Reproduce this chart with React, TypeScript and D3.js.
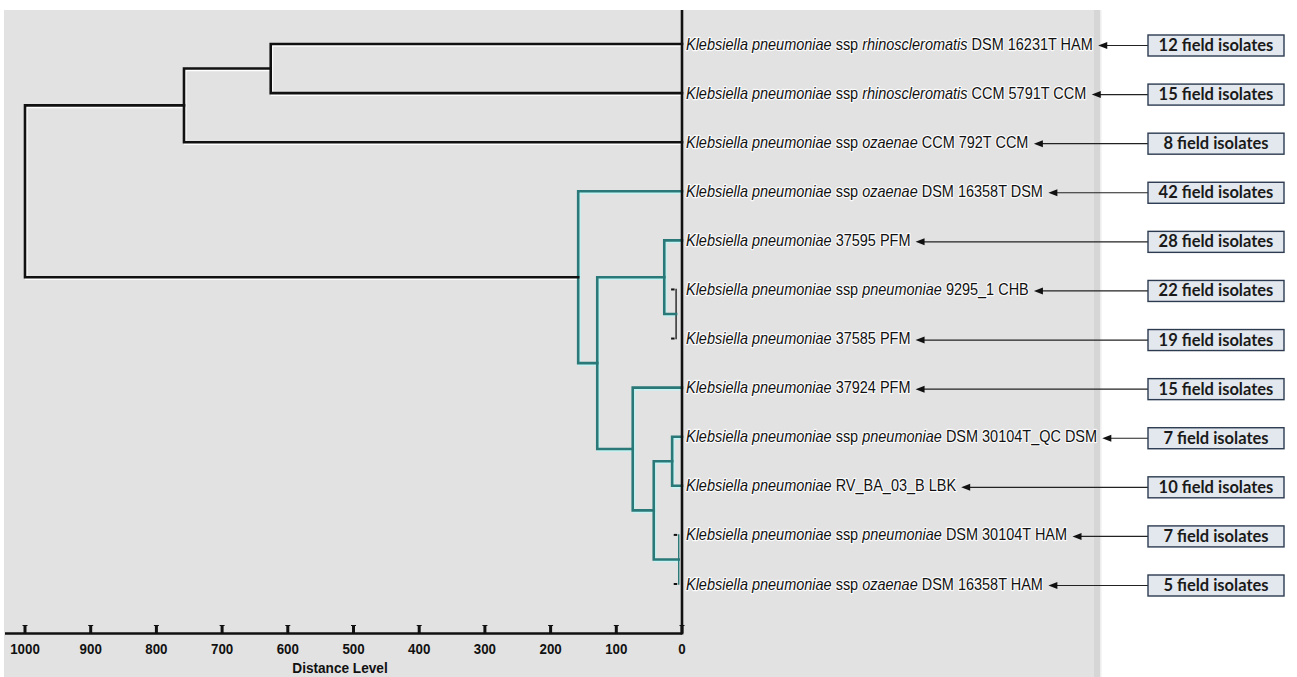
import React, { useMemo } from 'react';
import * as d3 from 'd3';

// ---------- DATA ----------
// each label: list of [text, italic]
const speciesLabels: [string, boolean][][] = [
  [['Klebsiella pneumoniae', true], [' ssp ', false], ['rhinoscleromatis', true], [' DSM 16231T HAM', false]],
  [['Klebsiella pneumoniae', true], [' ssp ', false], ['rhinoscleromatis', true], [' CCM 5791T CCM', false]],
  [['Klebsiella pneumoniae', true], [' ssp ', false], ['ozaenae', true], [' CCM 792T CCM', false]],
  [['Klebsiella pneumoniae', true], [' ssp ', false], ['ozaenae', true], [' DSM 16358T DSM', false]],
  [['Klebsiella pneumoniae', true], [' 37595 PFM', false]],
  [['Klebsiella pneumoniae', true], [' ssp ', false], ['pneumoniae', true], [' 9295_1 CHB', false]],
  [['Klebsiella pneumoniae', true], [' 37585 PFM', false]],
  [['Klebsiella pneumoniae', true], [' 37924 PFM', false]],
  [['Klebsiella pneumoniae', true], [' ssp ', false], ['pneumoniae', true], [' DSM 30104T_QC DSM', false]],
  [['Klebsiella pneumoniae', true], [' RV_BA_03_B LBK', false]],
  [['Klebsiella pneumoniae', true], [' ssp ', false], ['pneumoniae', true], [' DSM 30104T HAM', false]],
  [['Klebsiella pneumoniae', true], [' ssp ', false], ['ozaenae', true], [' DSM 16358T HAM', false]],
];

const fieldIsolates = [12, 15, 8, 42, 28, 22, 19, 15, 7, 10, 7, 5];

// linkage: [childA, childB, distance]; leaves are 0..11, merged nodes 12..
const merges: [number, number, number][] = [
  [5, 6, 9],      // 12
  [10, 11, 5],    // 13
  [8, 9, 15],     // 14
  [14, 13, 43],   // 15
  [7, 15, 75],    // 16
  [4, 12, 27],    // 17
  [17, 16, 129],  // 18
  [3, 18, 158],   // 19
  [0, 1, 626],    // 20
  [20, 2, 758],   // 21
  [21, 19, 1000], // 22
];

const axisTicks = [1000, 900, 800, 700, 600, 500, 400, 300, 200, 100, 0];
const axisTitle = 'Distance Level';
const boxSuffix = ' field isolates';

// ---------- STYLE ----------
const TEAL = '#2a7878';
const TEAL_HALO = '#c4f4f4';
const BLACK = '#111';
const CLUSTER_CUT = 200;
const TINY = 10;
const tinyStroke: Record<number, string> = { 0: '#222', 1: TEAL };
const LABEL_FONT = '"Liberation Sans", Arial, sans-serif';
const LABEL_SIZE = 16;
const LABEL_SX = 0.905;

export default function App() {
  const W = 1297, H = 677;
  const x = d3.scaleLinear().domain([1000, 0]).range([25, 682]);
  const y = d3.scalePoint<number>().domain(d3.range(speciesLabels.length)).range([44, 584]);
  const axisY = 633.5;

  const widths = useMemo(() => {
    const c = document.createElement('canvas').getContext('2d')!;
    return speciesLabels.map(segs =>
      d3.sum(segs, ([t, it]) => {
        c.font = `${it ? 'italic ' : ''}${LABEL_SIZE}px ${LABEL_FONT}`;
        return c.measureText(t).width;
      }) * LABEL_SX
    );
  }, []);

  // node positions
  const pos: { x: number; y: number }[] = speciesLabels.map((_, i) => ({ x: x(0), y: y(i)! }));
  merges.forEach(([a, b, d]) => {
    pos.push({ x: x(d), y: (pos[a].y + pos[b].y) / 2 });
  });

  const segs: { d: string; color: string; halo: string; w: number }[] = [];
  const dashes: { x: number; y: number }[] = [];
  merges.forEach(([a, b, d], k) => {
    const p = pos[speciesLabels.length + k];
    const pa = pos[a], pb = pos[b];
    const teal = d < CLUSTER_CUT;
    const color = teal ? TEAL : BLACK;
    const halo = teal ? TEAL_HALO : '#ffffff';
    if (d < TINY) {
      segs.push({ d: `M${p.x},${pa.y}V${pb.y}`, color: tinyStroke[k] ?? color, halo: 'none', w: 1.4 });
      dashes.push({ x: p.x, y: pa.y }, { x: p.x, y: pb.y });
    } else {
      segs.push({ d: `M${pa.x},${pa.y}H${p.x}V${pb.y}H${pb.x}`, color, halo, w: 2.6 });
    }
  });

  const labelX = 686;
  const boxX = 1148, boxW = 136, boxH = 21;

  return (
    <svg width={W} height={H} style={{ position: 'absolute', left: 0, top: 0, background: '#fff' }}>
      <rect x={4} y={10} width={1091} height={H - 10} fill="#e2e2e2" />
      <rect x={1094} y={10} width={6} height={H - 10} fill="#d6d6d6" />
      <rect x={1100} y={10} width={1.5} height={H - 10} fill="#eeeeee" />

      {/* dendrogram halos */}
      {segs.map((s, i) =>
        s.halo === 'none' ? null : (
          <path key={'h' + i} d={s.d} transform="translate(1.3,1.6)" fill="none" stroke={s.halo} strokeWidth={2.4} strokeLinejoin="miter" />
        )
      )}
      {segs.map((s, i) => (
        <path key={'s' + i} d={s.d} fill="none" stroke={s.color} strokeWidth={s.w} strokeLinejoin="miter" strokeLinecap="square" />
      ))}
      {dashes.map((p, i) => (
        <line key={'d' + i} x1={p.x - 5} x2={p.x - 1.5} y1={p.y} y2={p.y} stroke="#111" strokeWidth={2} />
      ))}

      {/* axes */}
      <line x1={x(0)} x2={x(0)} y1={10} y2={axisY + 1} stroke={BLACK} strokeWidth={2.6} />
      <line x1={5} x2={x(0)} y1={axisY} y2={axisY} stroke={BLACK} strokeWidth={2.4} />
      {axisTicks.map(t => (
        <g key={t}>
          <line x1={x(t)} x2={x(t)} y1={axisY - 8} y2={axisY} stroke={BLACK} strokeWidth={3} />
          <line x1={x(t) - 2.5} x2={x(t) + 2.5} y1={axisY - 8} y2={axisY - 8} stroke={BLACK} strokeWidth={1} />
          <text transform={`translate(${x(t)},${axisY + 20}) scale(0.86,1)`} textAnchor="middle" fontFamily={LABEL_FONT}
            fontWeight="bold" fontSize={15.5} fill="#111">
            {t}
          </text>
        </g>
      ))}
      <text transform={`translate(340,673) scale(0.88,1)`} textAnchor="middle" fontFamily={LABEL_FONT} fontWeight="bold" fontSize={15.5} fill="#111">
        {axisTitle}
      </text>

      {/* labels */}
      {speciesLabels.map((segsL, i) => (
        <text key={'l' + i} transform={`translate(${labelX},${y(i)! + 5.5}) scale(${LABEL_SX},1)`} fontFamily={LABEL_FONT}
          fontSize={LABEL_SIZE} fill="#111"
          stroke="#ffffff" strokeWidth={2.4} strokeOpacity={0.85} paintOrder="stroke" strokeLinejoin="round">
          {segsL.map(([t, it], j) => (
            <tspan key={j} fontStyle={it ? 'italic' : 'normal'} style={{ whiteSpace: 'pre' }}>{t}</tspan>
          ))}
        </text>
      ))}

      {/* arrows and boxes */}
      {fieldIsolates.map((n, i) => {
        const cy = y(i)! + 1.5;
        const tip = labelX + widths[i] + 5;
        return (
          <g key={'b' + i}>
            <line x1={tip + 8} x2={boxX} y1={cy} y2={cy} stroke="#222" strokeWidth={1.2} />
            <path d={`M${tip},${cy}L${tip + 9},${cy - 3.5}L${tip + 9},${cy + 3.5}Z`} fill="#111" />
            <rect x={boxX} y={cy - boxH / 2} width={boxW} height={boxH} fill="#e3e8ef" stroke="#2c3b50" strokeWidth={1.4} />
            <text x={boxX + boxW / 2} y={cy + 5.5} textAnchor="middle" fontFamily="Lato, 'Open Sans', sans-serif" fontWeight="bold" fontSize={16.5} fill="#1a1a1a">
              {n + boxSuffix}
            </text>
          </g>
        );
      })}
    </svg>
  );
}
